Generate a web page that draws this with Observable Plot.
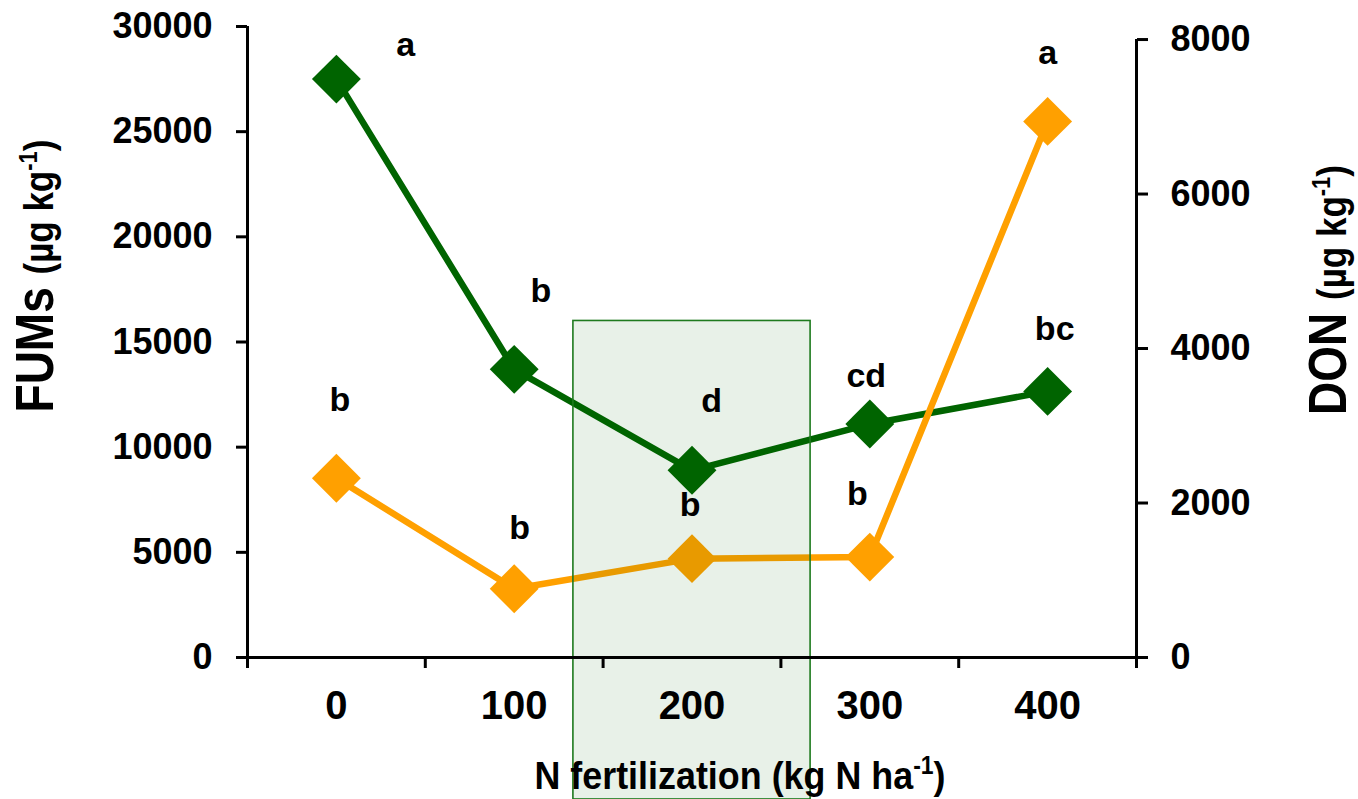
<!DOCTYPE html>
<html><head><meta charset="utf-8">
<script src="https://cdn.jsdelivr.net/npm/d3@7"></script>
<script src="https://cdn.jsdelivr.net/npm/@observablehq/plot@0.6"></script>
<style>body{margin:0;background:#fff;} #chart svg{display:block;}</style>
</head><body><div id="chart"></div>
<script>
// ---- data ----
const nRates = [0, 100, 200, 300, 400];
const fums = [27500, 13700, 8900, 11100, 12650];
const don = [2320, 890, 1280, 1300, 6940];
const fumsLetters = ["a", "b", "d", "cd", "bc"];
const donLetters = ["b", "b", "b", "b", "a"];
const fumsLetterX = [39, 115, 211, 298, 404];
const fumsLetterY = [29100, 17400, 12200, 13400, 15600];
const donLetterX = [2, 103, 199, 293, 400];
const donLetterY = [3330, 1680, 1970, 2110, 7830];
const xTickLabels = [0, 100, 200, 300, 400];
const xTickMarks = [-50, 50, 150, 250, 350, 450];
const fumsTicks = [0, 5000, 10000, 15000, 20000, 25000, 30000];
const donTicks = [0, 2000, 4000, 6000, 8000];
const optimum = [{x1: 133.3, x2: 266.7, y1: -6750, y2: 16000}];

// ---- layout / style ----
const W = 1358, H = 799;
const green = "#006400", orange = "#FFA000";
const k = 29380 / 8000; // DON units -> left-axis units
const font = "'Liberation Sans', Arial, sans-serif";

const fData = nRates.map((n, i) => ({n, v: fums[i]}));
const dData = nRates.map((n, i) => ({n, v: don[i] * k}));
const fLab = fumsLetters.map((t, i) => ({t, x: fumsLetterX[i], y: fumsLetterY[i]}));
const dLab = donLetters.map((t, i) => ({t, x: donLetterX[i], y: donLetterY[i] * k}));

const svg = Plot.plot({
  width: W, height: H,
  marginLeft: 247, marginRight: 222, marginTop: 26, marginBottom: 142,
  style: {fontFamily: font, background: "#fff", overflow: "visible"},
  x: {domain: [-50, 450], axis: null},
  y: {domain: [0, 30000], axis: null},
  marks: [
    Plot.line(fData, {x: "n", y: "v", stroke: green, strokeWidth: 6.5}),
    Plot.line(dData, {x: "n", y: "v", stroke: orange, strokeWidth: 6.5}),
    Plot.dot(fData, {x: "n", y: "v", symbol: "square", r: 19.5, rotate: 45, fill: green}),
    Plot.dot(dData, {x: "n", y: "v", symbol: "square", r: 19.5, rotate: 45, fill: orange}),
    Plot.rect(optimum, {x1: "x1", x2: "x2", y1: "y1", y2: "y2", fill: "#006400", fillOpacity: 0.09, stroke: "#1e7a1e", strokeWidth: 1.6}),
    Plot.ruleY([0], {x1: -50, x2: 450, stroke: "#000", strokeWidth: 3}),
    Plot.ruleX([-50], {y1: 0, y2: 30000, stroke: "#000", strokeWidth: 3}),
    Plot.ruleX([450], {y1: 0, y2: 8000 * k, stroke: "#000", strokeWidth: 3}),
    Plot.axisY(fumsTicks, {anchor: "left", tickSize: 11, tickPadding: 24, strokeWidth: 3,
      fontSize: 36, fontWeight: "bold", tickFormat: d => String(d), label: null}),
    Plot.axisY(donTicks.map(d => d * k), {anchor: "right", tickSize: 11, tickPadding: 23, strokeWidth: 3,
      fontSize: 36, fontWeight: "bold", tickFormat: d => String(Math.round(d / k)), label: null}),
    Plot.axisX(xTickMarks, {anchor: "bottom", tickSize: 11, strokeWidth: 3, tickFormat: () => "", label: null}),
    Plot.axisX(xTickLabels, {anchor: "bottom", tickSize: 0, tickPadding: 33, fontSize: 40,
      fontWeight: "bold", tickFormat: d => String(d), label: null, ariaLabel: "x-tick-labels"}),
    Plot.text(fLab, {x: "x", y: "y", text: "t", fontSize: 34, fontWeight: "bold", fill: "#000"}),
    Plot.text(dLab, {x: "x", y: "y", text: "t", fontSize: 34, fontWeight: "bold", fill: "#000"})
  ]
});
document.getElementById("chart").appendChild(svg);

const s = d3.select(svg);
// condense the x tick labels (reference uses a narrow face)
s.selectAll('g[aria-label="x-tick-labels"] text').each(function() {
  const tr = this.getAttribute("transform") || "";
  this.setAttribute("transform", tr + " scale(0.86,1)");
});

// ---- axis titles with superscripts ----
function title(tx, parts, anchor) {
  const t = s.append("text")
    .attr("transform", tx)
    .attr("text-anchor", anchor || "middle")
    .attr("font-family", font)
    .attr("font-weight", "bold")
    .attr("fill", "#000");
  parts.forEach(p => {
    const ts = t.append("tspan").attr("font-size", p.size).text(p.text);
    if (p.sup) ts.attr("dy", -p.sup);
    if (p.down) ts.attr("dy", p.down);
  });
}
title("translate(53,276) rotate(-90) scale(1,1.15)", [
  {text: "FUMs ", size: 46},
  {text: "(µg kg", size: 35},
  {text: "-1", size: 22, sup: 14},
  {text: ")", size: 35, down: 14}
]);
title("translate(1346,290) rotate(-90) scale(1,1.15)", [
  {text: "DON ", size: 46},
  {text: "(µg kg", size: 35},
  {text: "-1", size: 22, sup: 14},
  {text: ")", size: 35, down: 14}
]);
title("translate(740,789) scale(0.92,1)", [
  {text: "N fertilization (kg N ha", size: 39},
  {text: "-1", size: 25, sup: 15},
  {text: ")", size: 39, down: 15}
]);
</script>
</body></html>
